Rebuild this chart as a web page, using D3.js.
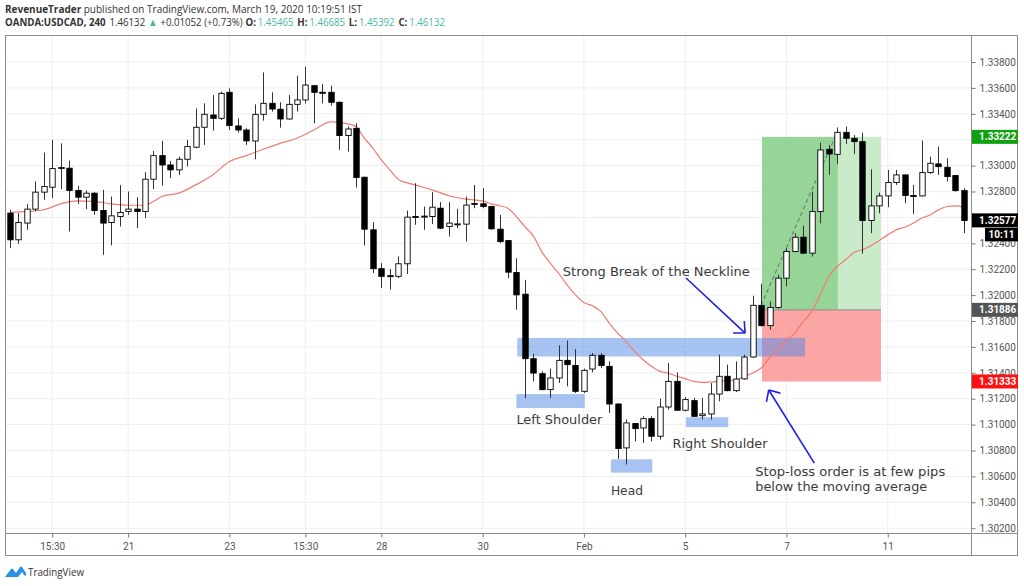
<!DOCTYPE html>
<html><head><meta charset="utf-8">
<script src="https://cdn.jsdelivr.net/npm/d3@7/dist/d3.min.js"></script>
<style>body{margin:0;background:#fff}svg{display:block}</style>
</head><body>
<svg id="c" width="1024" height="586"></svg>
<script>
// ---------- DATA ----------
const opens=[1.32633,1.32427,1.32556,1.32664,1.32795,1.32833,1.32977,1.32980,1.32808,1.32756,
1.32787,1.32653,1.32561,1.32607,1.32646,1.32664,1.32646,1.32895,1.33077,1.33005,
1.32967,1.33049,1.33142,1.33296,1.33391,1.33365,1.33566,1.33306,1.33275,1.33190,
1.33396,1.33481,1.33435,1.33360,1.33473,1.33507,1.33617,1.33566,1.33566,1.33489,
1.33232,1.33288,1.32910,1.32504,1.32204,1.32150,1.32145,1.32242,1.32607,1.32607,
1.32607,1.32671,1.32530,1.32548,1.32548,1.32705,1.32705,1.32684,1.32509,1.32421,
1.32175,1.32007,1.31509,1.31393,1.31270,1.31360,1.31496,1.31457,1.31257,1.31429,
1.31535,1.31450,1.31159,1.30820,1.31008,1.30974,1.31046,1.30910,1.31136,1.31334,
1.31111,1.31185,1.31069,1.31082,1.31236,1.31373,1.31262,1.31353,1.31522,1.31921,
1.31764,1.31905,1.32131,1.32337,1.32447,1.32324,1.32645,1.33126,1.33087,1.33257,
1.33211,1.33185,1.32576,1.32689,1.32766,1.32869,1.32928,1.32769,1.32766,1.32946,
1.33013,1.32987,1.32923,1.32807];
const highs=[1.32659,1.32633,1.32702,1.32877,1.33101,1.33198,1.33172,1.33039,1.32844,1.32808,
1.32795,1.32813,1.32761,1.32849,1.32800,1.32756,1.32949,1.33113,1.33191,1.33036,
1.33070,1.33198,1.33442,1.33481,1.33545,1.33571,1.33597,1.33365,1.33288,1.33473,
1.33720,1.33566,1.33489,1.33545,1.33694,1.33764,1.33620,1.33630,1.33617,1.33495,
1.33301,1.33327,1.32915,1.32563,1.32247,1.32201,1.32299,1.32653,1.32864,1.32684,
1.32795,1.32718,1.32718,1.32666,1.32761,1.32851,1.32826,1.32690,1.32619,1.32425,
1.32285,1.32118,1.31547,1.31411,1.31432,1.31612,1.31650,1.31583,1.31432,1.31553,
1.31553,1.31488,1.31165,1.31039,1.31012,1.31064,1.31064,1.31200,1.31475,1.31403,
1.31213,1.31206,1.31206,1.31321,1.31540,1.31463,1.31488,1.31540,1.31995,1.32088,
1.31951,1.32157,1.32363,1.32478,1.32537,1.32799,1.33177,1.33159,1.33295,1.33301,
1.33236,1.33254,1.32972,1.32792,1.32967,1.32967,1.32933,1.32851,1.33193,1.33069,
1.33146,1.33056,1.32928,1.32825];
const lows=[1.32363,1.32396,1.32504,1.32646,1.32736,1.32749,1.32818,1.32491,1.32705,1.32664,
1.32620,1.32311,1.32384,1.32530,1.32620,1.32517,1.32594,1.32818,1.32846,1.32903,
1.32928,1.32993,1.33134,1.33160,1.33270,1.33352,1.33275,1.33255,1.33160,1.33049,
1.33347,1.33417,1.33293,1.33355,1.33417,1.33481,1.33327,1.33481,1.33463,1.33121,
1.33108,1.32831,1.32384,1.32170,1.32055,1.32042,1.32132,1.32163,1.32543,1.32504,
1.32548,1.32509,1.32453,1.32517,1.32414,1.32671,1.32671,1.32504,1.32401,1.32131,
1.31887,1.31204,1.31334,1.31265,1.31206,1.31321,1.31296,1.31244,1.31244,1.31404,
1.31437,1.31090,1.30735,1.30692,1.30871,1.30859,1.30871,1.30884,1.31116,1.31108,
1.31103,1.31059,1.31039,1.31039,1.31180,1.31257,1.31252,1.31347,1.31514,1.31759,
1.31733,1.31895,1.32067,1.32332,1.32319,1.32298,1.32555,1.32928,1.33010,1.33167,
1.33090,1.32319,1.32478,1.32632,1.32679,1.32851,1.32710,1.32627,1.32761,1.32936,
1.32928,1.32877,1.32799,1.32478];
const closes=[1.32427,1.32561,1.32664,1.32795,1.32838,1.32977,1.32985,1.32808,1.32756,1.32787,
1.32653,1.32556,1.32612,1.32638,1.32664,1.32646,1.32895,1.33077,1.33005,1.32967,
1.33049,1.33147,1.33296,1.33396,1.33365,1.33558,1.33309,1.33275,1.33191,1.33396,
1.33481,1.33437,1.33360,1.33473,1.33507,1.33622,1.33566,1.33560,1.33489,1.33232,
1.33283,1.32908,1.32509,1.32204,1.32145,1.32148,1.32242,1.32602,1.32605,1.32610,
1.32679,1.32517,1.32556,1.32550,1.32695,1.32707,1.32684,1.32512,1.32413,1.32177,
1.32002,1.31509,1.31398,1.31270,1.31360,1.31496,1.31463,1.31257,1.31419,1.31535,
1.31457,1.31159,1.30815,1.31013,1.30969,1.31046,1.30910,1.31136,1.31334,1.31111,
1.31193,1.31064,1.31082,1.31236,1.31373,1.31262,1.31352,1.31522,1.31921,1.31764,
1.31905,1.32131,1.32337,1.32447,1.32324,1.32645,1.33121,1.33090,1.33257,1.33211,
1.33185,1.32576,1.32689,1.32766,1.32869,1.32928,1.32769,1.32761,1.32946,1.33018,
1.32992,1.32915,1.32807,1.32576];
// moving average (candle index, price)
const maIdx=[1,3,5,7,9,11,13,15,17,18,19,21,23,25,27,29,31,33,35,37,39,40,41,42,43,44,45,46,47,49,51,53,55,57,58,59,60,61,62,63,64,65,66,67,68,69,70,71,72,73,74,75,76,77,78,79,80,81,82,83,84,85,86,87,88,89,90,91,92,93,94,95,96,97,98,99,100,101,102,103,104,105,106,107,108,109,110,111,112,113,114];
const maVal=[1.32638,1.32646,1.32659,1.32705,1.32728,1.32723,1.32705,1.32694,1.32694,1.32723,1.32761,1.32787,1.32851,1.32928,1.33031,1.33077,1.33126,1.33172,1.33211,1.33275,1.33337,1.33334,1.33322,1.33301,1.33211,1.33134,1.33044,1.32967,1.32895,1.32851,1.32813,1.32767,1.32741,1.32728,1.32705,1.32690,1.32671,1.32606,1.32529,1.32457,1.32336,1.32247,1.32169,1.32079,1.32002,1.31943,1.31918,1.31874,1.31784,1.31707,1.31643,1.31565,1.31501,1.31450,1.31411,1.31398,1.31373,1.31355,1.31334,1.31326,1.31329,1.31334,1.31339,1.31345,1.31373,1.31399,1.31437,1.31515,1.31579,1.31656,1.31707,1.31797,1.31874,1.32003,1.32144,1.32221,1.32273,1.32329,1.32350,1.32381,1.32422,1.32465,1.32504,1.32524,1.32555,1.32594,1.32619,1.32658,1.32684,1.32689,1.32679];
const priceTicks=[1.302,1.304,1.306,1.308,1.310,1.312,1.314,1.316,1.318,1.320,1.322,1.324,1.326,1.328,1.330,1.332,1.334,1.336,1.338];
const timeTickIdx=[6,15,27,36,45,57,69,81,93,105];
const timeTickLabels=["15:30","21","23","15:30","28","30","Feb","5","7","11"];
// pattern zones (candle index range, price range)
const zoneI0=[61.1,61.0,72.2,81.1];
const zoneI1=[95.2,69.1,77.1,86.1];
const zoneHi=[1.31669,1.31236,1.30732,1.31057];
const zoneLo=[1.31526,1.31128,1.30629,1.30980];
// long position tool
const tradeIdx=[90.1,99.1,104.2];   // start, fill end, end
const tradeTarget=1.33222, tradeEntry=1.31886, tradeStop=1.31333;
const tradePathIdx=[90,99], tradePathPx=[1.31921,1.33257];
const lastPrice=1.32577, countdown="10:11";
// arrows [fromIdx, fromPx, toIdx, toPx]
const arrows=[[81.1,1.32132,88.1,1.31707],[96.3,1.30703,90.9,1.31267]];
// labels
const noteText=["Strong Break of the Neckline","Left Shoulder","Head","Right Shoulder","Stop-loss order is at few pips","below the moving average"];
const noteIdx=[66.5,61.0,72.2,79.5,89.3,89.3];
const notePx=[1.32148,1.31005,1.30456,1.30819,1.30605,1.30487];
const noteLen=[187,86,32,95,190,172];
// header line 2 pieces
const hdrText=["OANDA:USDCAD, 240","1.46132","▲","+0.01052 (+0.73%)","O:","1.45465","H:","1.46685","L:","1.45392","C:","1.46132"];
const hdrKind=["b","n","t","n","b","t","b","t","b","t","b","t"];

// ---------- CHART ----------
const svg=d3.select("#c");
const L=5,R=971,T=35,B=533,RR=1018,BB=556;
const x=d3.scaleLinear().domain([1,114]).range([10,963.7]);
const y=d3.scaleLinear().domain([1.302,1.338]).range([528.2,62]);
const n=opens.length;

svg.append("rect").attr("width",1024).attr("height",586).attr("fill","#fff");
svg.append("defs").append("clipPath").attr("id","plot").append("rect")
  .attr("x",L).attr("y",T).attr("width",R-L).attr("height",B-T);

// grid
const g=svg.append("g").attr("clip-path","url(#plot)");
g.selectAll("line.h").data(priceTicks).join("line")
  .attr("x1",L).attr("x2",R).attr("y1",d=>y(d)).attr("y2",d=>y(d))
  .attr("stroke","#eeeeee").attr("stroke-width",1);
g.selectAll("line.v").data(timeTickIdx).join("line")
  .attr("y1",T).attr("y2",B).attr("x1",d=>x(d)).attr("x2",d=>x(d))
  .attr("stroke","#eeeeee").attr("stroke-width",1);

// trade boxes
g.append("rect").attr("x",x(tradeIdx[0])).attr("width",x(tradeIdx[1])-x(tradeIdx[0]))
  .attr("y",y(tradeTarget)).attr("height",y(tradeEntry)-y(tradeTarget)).attr("fill","#97d497");
g.append("rect").attr("x",x(tradeIdx[1])).attr("width",x(tradeIdx[2])-x(tradeIdx[1]))
  .attr("y",y(tradeTarget)).attr("height",y(tradeEntry)-y(tradeTarget)).attr("fill","#c9ebc9");
g.append("rect").attr("x",x(tradeIdx[0])).attr("width",x(tradeIdx[2])-x(tradeIdx[0]))
  .attr("y",y(tradeEntry)).attr("height",y(tradeStop)-y(tradeEntry)).attr("fill","#fba5a5");
g.append("line").attr("x1",x(tradeIdx[0])).attr("x2",x(tradeIdx[2]))
  .attr("y1",y(tradeEntry)).attr("y2",y(tradeEntry)).attr("stroke","#8a8a8a").attr("stroke-width",1);

// zones
g.selectAll("rect.zone").data(zoneI0).join("rect").attr("class","zone")
  .attr("x",(d,i)=>x(zoneI0[i])).attr("width",(d,i)=>x(zoneI1[i])-x(zoneI0[i]))
  .attr("y",(d,i)=>y(zoneHi[i])).attr("height",(d,i)=>y(zoneLo[i])-y(zoneHi[i]))
  .attr("fill","rgba(80,135,230,0.5)");

// dashed trade path
g.append("line").attr("x1",x(tradePathIdx[0])).attr("y1",y(tradePathPx[0]))
  .attr("x2",x(tradePathIdx[1])).attr("y2",y(tradePathPx[1]))
  .attr("stroke","#666").attr("stroke-width",1).attr("stroke-dasharray","4,3");

// MA
g.append("path").datum(maIdx.map((d,i)=>[d,maVal[i]]))
  .attr("d",d3.line().x(d=>x(d[0])).y(d=>y(d[1])).curve(d3.curveMonotoneX))
  .attr("fill","none").attr("stroke","#f27a72").attr("stroke-width",1.2);

// candles
const bw=5.4;
const cg=g.append("g");
const idx=d3.range(n);
cg.selectAll("line.w").data(idx).join("line")
  .attr("x1",i=>Math.round(x(i+1))+0.5).attr("x2",i=>Math.round(x(i+1))+0.5)
  .attr("y1",i=>y(highs[i])).attr("y2",i=>y(lows[i]))
  .attr("stroke","#333").attr("stroke-width",1);
cg.selectAll("rect.b").data(idx).join("rect")
  .attr("x",i=>Math.round(x(i+1))+0.5-bw/2).attr("width",bw)
  .attr("y",i=>y(Math.max(opens[i],closes[i])))
  .attr("height",i=>Math.max(1,Math.abs(y(opens[i])-y(closes[i]))))
  .attr("fill",i=>closes[i]>=opens[i]?"#ffffff":"#000000")
  .attr("stroke","#000").attr("stroke-width",0.9);

// arrows
const ag=svg.append("g").attr("stroke","#1f1fe6").attr("stroke-width",1.6).attr("fill","none");
arrows.forEach(a=>{
  const x1=x(a[0]),y1=y(a[1]),x2=x(a[2]),y2=y(a[3]);
  ag.append("line").attr("x1",x1).attr("y1",y1).attr("x2",x2).attr("y2",y2);
  const ang=Math.atan2(y2-y1,x2-x1), hl=12;
  [-0.75,0.75].forEach(s=>{
    ag.append("line").attr("x1",x2).attr("y1",y2)
      .attr("x2",x2-hl*Math.cos(ang+s)).attr("y2",y2-hl*Math.sin(ang+s));
  });
});

// notes
svg.selectAll("text.note").data(noteText).join("text").attr("class","note")
  .attr("x",(d,i)=>x(noteIdx[i])).attr("y",(d,i)=>y(notePx[i]))
  .attr("textLength",(d,i)=>noteLen[i]).attr("lengthAdjust","spacingAndGlyphs")
  .attr("font-family","DejaVu Sans, Verdana, sans-serif").attr("font-size",13)
  .attr("fill","#3a3a3a").text(d=>d);

// frame
svg.append("rect").attr("x",L+0.5).attr("y",T+0.5).attr("width",RR-L-1).attr("height",BB-T-1)
  .attr("fill","none").attr("stroke","#8c8c8c");
svg.append("line").attr("x1",R+0.5).attr("x2",R+0.5).attr("y1",T).attr("y2",BB).attr("stroke","#8c8c8c");
svg.append("line").attr("x1",L).attr("x2",RR).attr("y1",B+0.5).attr("y2",B+0.5).attr("stroke","#8c8c8c");

// price tags
const tags=[[tradeTarget,"#11a011"],[lastPrice,"#000000"],[tradeEntry,"#555555"],[tradeStop,"#ff1010"]];

// price axis (labels fully hidden under a tag are not drawn)
const hidden=d=>tags.some(t=>Math.abs(y(t[0])-y(d))<4);
const ya=svg.append("g").attr("transform",`translate(${R+0.5},0)`)
  .call(d3.axisRight(y).tickValues(priceTicks).tickFormat(d=>hidden(d)?"":d3.format(".5f")(d)).tickSize(4).tickPadding(4));
ya.select(".domain").remove();
ya.selectAll("line").attr("stroke","#777");
ya.selectAll("text").attr("fill","#555").attr("font-family","Roboto, sans-serif").attr("font-size",10);

// time axis
const xa=svg.append("g").attr("transform",`translate(0,${B+0.5})`)
  .call(d3.axisBottom(x).tickValues(timeTickIdx).tickFormat((d,i)=>timeTickLabels[i]).tickSize(4).tickPadding(5));
xa.select(".domain").remove();
xa.selectAll("line").attr("stroke","#777");
xa.selectAll("text").attr("fill","#555").attr("font-family","Roboto, sans-serif").attr("font-size",10);

tags.forEach(t=>{
  const yy=y(t[0]);
  svg.append("rect").attr("x",R+1).attr("y",yy-7).attr("width",RR-R-1).attr("height",14).attr("fill",t[1]);
  svg.append("text").attr("x",R+8).attr("y",yy+3.6).attr("fill","#fff").attr("font-weight","bold")
    .attr("font-family","Roboto, sans-serif").attr("font-size",10).text(d3.format(".5f")(t[0]));
});
{
  const yy=y(lastPrice)+14;
  svg.append("rect").attr("x",985).attr("y",yy-6.5).attr("width",RR-985).attr("height",13.5).attr("fill","#000");
  svg.append("text").attr("x",(985+RR)/2).attr("y",yy+3.6).attr("text-anchor","middle").attr("fill","#fff")
    .attr("font-weight","bold").attr("font-family","Roboto, sans-serif").attr("font-size",10).text(countdown);
}

// header
const h1=svg.append("text").attr("x",5).attr("y",13).attr("font-family","Open Sans, sans-serif").attr("font-size",10.5).attr("fill","#333");
h1.append("tspan").attr("font-weight","bold").text("RevenueTrader");
h1.append("tspan").text(" published on TradingView.com, March 19, 2020 10:19:51 IST");
h1.attr("textLength",357).attr("lengthAdjust","spacingAndGlyphs");
const teal="#4ab5a8";
// line 2: pieces laid out at natural width inside a horizontally squeezed group
const hg=svg.append("g");
const gaps=[4,3,3,3,2,4,2,4,2,4,2,0];
let cx=0;
hdrText.forEach((t,i)=>{
  const el=hg.append("text").attr("x",cx).attr("y",0).attr("font-family","Open Sans, sans-serif").attr("font-size",10.5)
    .attr("font-weight",hdrKind[i]==="b"?"bold":"normal")
    .attr("fill",hdrKind[i]==="t"?teal:"#333").text(t);
  cx+=el.node().getComputedTextLength()+gaps[i];
});
const k=Math.min(1,440/cx);
hg.attr("transform",`translate(5,26) scale(${k},1)`);

// TradingView logo
svg.append("path").attr("d","M5,577 L11,569 Q12,568 13,569 L16,573 L20,567 Q21,566 22,567 L26,573 Q27,575 25,576 L22,572 L18,577 Z")
  .attr("fill","#2a93e8");
svg.append("text").attr("x",28).attr("y",576).attr("font-family","Open Sans, sans-serif").attr("font-size",11)
  .attr("fill","#333").attr("textLength",56).attr("lengthAdjust","spacingAndGlyphs").text("TradingView");
</script>
</body></html>
